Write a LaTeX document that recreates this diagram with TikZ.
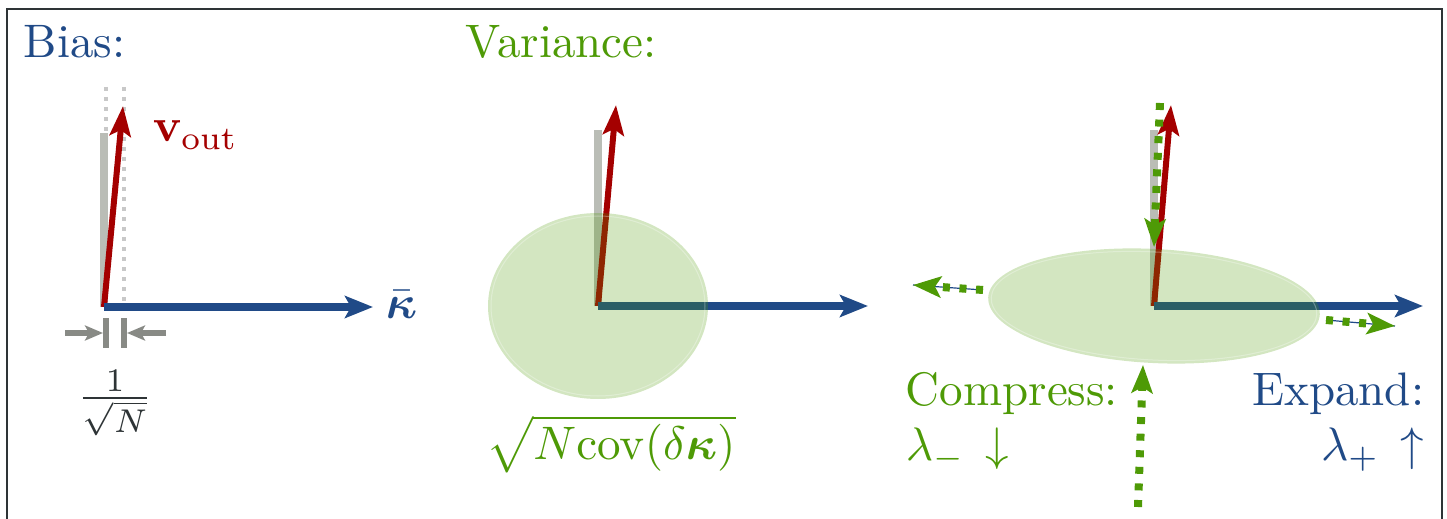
\documentclass[tikz,border=0pt]{standalone}
\usepackage{amsmath,bm}
\usetikzlibrary{arrows.meta}

\definecolor{skyblue}{HTML}{204A87}
\definecolor{scarlet}{HTML}{A40000}
\definecolor{chameleon}{HTML}{4E9A06}
\definecolor{alu}{HTML}{BABDB6}
\definecolor{aludark}{HTML}{888A85}
\definecolor{alulight}{HTML}{C8C8C8}
\definecolor{slate}{HTML}{2E3436}

\tikzset{
  frame/.style={slate, line width=1pt},
  kappavec/.style={skyblue, line width=4.3pt, -{Stealth[length=14pt,width=11pt,inset=3pt]}},
  outvec/.style={scarlet, line width=3pt, -{Stealth[length=15pt,width=10.5pt,inset=3pt]}},
  greybar/.style={alu, line width=4pt},
  guide/.style={alulight, line width=2.2pt, dash pattern=on 2pt off 3pt},
  dimarrow/.style={aludark, line width=3pt, -{Stealth[length=9pt,width=7.5pt,inset=2pt]}},
  dimbar/.style={aludark, line width=3pt},
  flow/.style={chameleon, line width=4pt, dash pattern=on 3.5pt off 4.8pt, -{Stealth[length=14pt,width=10.5pt,inset=3pt]}},
  flowline/.style={skyblue, line width=0.6pt},
  cloud/.style={fill=chameleon, fill opacity=0.25},
  rim/.style={white, line width=0.5pt, opacity=0.3},
  lbl/.style={inner sep=0pt, scale=2.35, transform shape, font=\fontsize{10}{12}\selectfont},
}

\begin{document}
\begin{tikzpicture}[x=0.5pt, y=-0.5pt]
  \useasboundingbox (0,0) rectangle (1447,519);
  \clip (0,0) rectangle (1447,519);
  \draw[frame] (7,9) rectangle (1442,540);

  % bias
  \coordinate (o1) at (104,307); \coordinate (k1) at (373,307); \coordinate (v1) at (123,106);
  \draw[guide] (106,87) -- (106,302);
  \draw[guide] (124,87) -- (124,302);
  \draw[greybar] (o1) -- (104,133);
  \draw[outvec] (o1) -- (v1);
  \draw[kappavec] (o1) -- (k1);
  \coordinate (wl) at (103,333); \coordinate (wr) at (127,333);
  \draw[dimbar] (106,318) -- (106,348);
  \draw[dimbar] (124,318) -- (124,348);
  \draw[dimarrow] (65,333) -- (wl);
  \draw[dimarrow] (166,333) -- (wr);
  \node[lbl, skyblue, anchor=base west] (bias) at (23,58) {Bias:};
  \node[lbl, scarlet, anchor=base west] (vout) at (152,142) {$\mathbf{v}_{\mathrm{out}}$};
  \node[lbl, skyblue, anchor=base west] (kbar) at (385,318) {$\bar{\bm{\kappa}}$};
  \node[lbl, slate, anchor=base] (gap) at (115,410) {$\frac{1}{\sqrt{N}}$};

  % variance
  \coordinate (o2) at (598,306); \coordinate (k2) at (868,306); \coordinate (v2) at (616,105);
  \draw[greybar] (o2) -- (598,130);
  \draw[outvec] (o2) -- (v2);
  \draw[kappavec] (o2) -- (k2);
  \fill[cloud] (o2) ellipse [x radius=110, y radius=93];
  \draw[rim] (o2) ellipse [x radius=107, y radius=90];
  \node[lbl, chameleon, anchor=base west] (variance) at (465,58) {Variance:};
  \node[lbl, chameleon, anchor=base] (spread) at (611,459) {$\sqrt{N\mathrm{cov}(\delta\bm{\kappa})}$};

  % compress / expand
  \coordinate (o3) at (1154,306); \coordinate (k3) at (1423,306); \coordinate (v3) at (1171,105);
  \coordinate (t0) at (1160,103); \coordinate (t1) at (1154,247);
  \coordinate (u0) at (1138,507); \coordinate (u1) at (1143,365);
  \coordinate (l0) at (983,290); \coordinate (l1) at (913,285);
  \coordinate (r0) at (1326,320); \coordinate (r1) at (1395,326);
  \draw[greybar] (o3) -- (1154,130);
  \draw[outvec] (o3) -- (v3);
  \draw[kappavec] (o3) -- (k3);
  \draw[flow] (t0) -- (t1);
  \fill[cloud, rotate around={-3:(o3)}] (o3) ellipse [x radius=166, y radius=57];
  \draw[rim, rotate around={-3:(o3)}] (o3) ellipse [x radius=163, y radius=54];
  \draw[flowline] (l0) -- (l1);
  \draw[flow] (l0) -- (l1);
  \draw[flowline] (r0) -- (r1);
  \draw[flow] (r0) -- (r1);
  \draw[flow] (u0) -- (u1);
  \node[lbl, chameleon, anchor=base west] (compress) at (905,405) {Compress:};
  \node[lbl, chameleon, anchor=base west] (lminus) at (905,460) {$\lambda_-\,\downarrow$};
  \node[lbl, skyblue, anchor=base east] (expand) at (1425,405) {Expand:};
  \node[lbl, skyblue, anchor=base east] (lplus) at (1425,460) {$\lambda_+\,\uparrow$};
\end{tikzpicture}
\end{document}
